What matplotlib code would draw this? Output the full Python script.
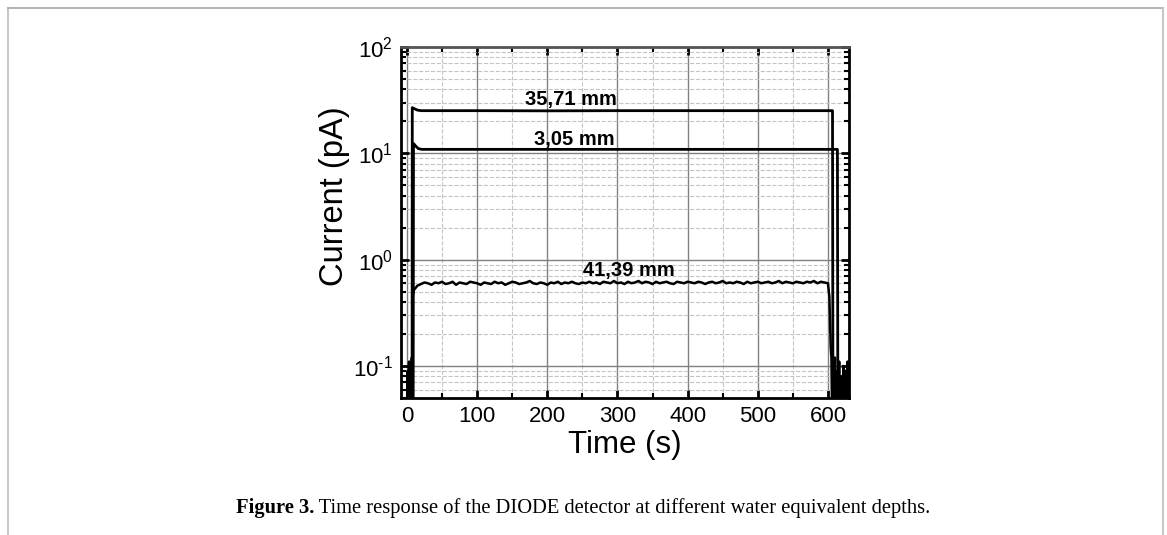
import numpy as np
import matplotlib
matplotlib.use('Agg')
import matplotlib.pyplot as plt
from matplotlib.lines import Line2D
from matplotlib.ticker import MultipleLocator, LogLocator, FuncFormatter, NullFormatter

plt.rcParams['font.family'] = ['Liberation Sans', 'DejaVu Sans']
plt.rcParams['mathtext.fontset'] = 'custom'
plt.rcParams['mathtext.rm'] = 'Liberation Sans'
plt.rcParams['axes.unicode_minus'] = False

# 35,71 mm trace
t1 = [0, 7.3, 7.6, 10, 15, 20, 100, 200, 300, 400, 500, 606.5, 607.2]
i1 = [0.02, 0.02, 26.9, 26.4, 25.5, 25.2, 25.2, 25.1, 25.2, 25.2, 25.2, 25.2, 0.02]

# 3,05 mm trace
t2 = [0, 8.8, 9.3, 12, 16, 21, 100, 200, 300, 400, 500, 613.5, 614.2]
i2 = [0.02, 0.02, 12.4, 11.8, 11.1, 10.9, 10.9, 10.9, 10.9, 10.9, 10.9, 10.9, 0.02]

# 41,39 mm trace
t3_head = [0, 1, 2, 3, 4, 5, 6, 7, 7.8, 8.2]
i3_head = [0.02, 0.09, 0.03, 0.11, 0.02, 0.08, 0.04, 0.12, 0.03, 0.45]
t3_body = np.arange(10, 601, 5)
i3_body = [0.52, 0.57, 0.59, 0.61, 0.60, 0.58, 0.61, 0.60, 0.62, 0.59,
           0.60, 0.62, 0.58, 0.61, 0.60, 0.59, 0.62, 0.61, 0.60, 0.58,
           0.61, 0.60, 0.59, 0.62, 0.60, 0.61, 0.58, 0.60, 0.62, 0.61,
           0.59, 0.60, 0.61, 0.63, 0.60, 0.59, 0.61, 0.60, 0.58, 0.61,
           0.60, 0.62, 0.59, 0.61, 0.60, 0.62, 0.60, 0.59, 0.61, 0.60,
           0.62, 0.60, 0.61, 0.59, 0.62, 0.61, 0.60, 0.63, 0.60, 0.61,
           0.59, 0.62, 0.60, 0.61, 0.63, 0.60, 0.62, 0.61, 0.59, 0.62,
           0.60, 0.61, 0.62, 0.60, 0.59, 0.62, 0.61, 0.60, 0.62, 0.61,
           0.60, 0.62, 0.61, 0.59, 0.61, 0.62, 0.60, 0.61, 0.63, 0.60,
           0.61, 0.60, 0.62, 0.61, 0.59, 0.62, 0.60, 0.61, 0.62, 0.60,
           0.61, 0.62, 0.60, 0.61, 0.63, 0.60, 0.62, 0.61, 0.60, 0.62,
           0.61, 0.60, 0.62, 0.61, 0.63, 0.60, 0.62, 0.61, 0.60]
t3_tail = [602, 603, 604, 605, 606, 607, 608, 610, 611, 613, 614, 616, 617,
           619, 620, 622, 623, 625, 626, 628, 629, 630]
i3_tail = [0.45, 0.25, 0.15, 0.12, 0.03, 0.10, 0.04, 0.12, 0.02, 0.09, 0.03,
           0.11, 0.04, 0.08, 0.02, 0.10, 0.03, 0.09, 0.04, 0.11, 0.03, 0.08]

t3 = list(t3_head) + list(t3_body) + t3_tail
i3 = list(i3_head) + list(i3_body) + i3_tail

labels = ['35,71 mm', '3,05 mm', '41,39 mm']
label_x = [234, 238, 316]
label_y = [32, 13.5, 0.79]


def decade(v, pos):
    e = int(round(np.log10(v)))
    if e < 0:
        return r'$\mathdefault{10^{\text{-}%d}}$' % (-e)
    return r'$\mathdefault{10^{%d}}$' % e


fig = plt.figure(figsize=(11.67, 5.35), dpi=100)
ax = fig.add_axes([0.3436, 0.2561, 0.3839, 0.656])

ax.plot(t1, i1, color='black', lw=2)
ax.plot(t2, i2, color='black', lw=2)
ax.plot(t3, i3, color='black', lw=1.8)

for lab, x, y in zip(labels, label_x, label_y):
    ax.text(x, y, lab, ha='center', va='center', fontsize=14.5, fontweight='bold')

ax.set_yscale('log')
ax.set_xlim(-8.5, 630)
ax.set_ylim(0.05, 100)

ax.xaxis.set_major_locator(MultipleLocator(100))
ax.xaxis.set_minor_locator(MultipleLocator(50))
ax.yaxis.set_major_locator(LogLocator(base=10, numticks=10))
ax.yaxis.set_minor_locator(LogLocator(base=10, subs=np.arange(2, 10), numticks=20))
ax.yaxis.set_major_formatter(FuncFormatter(decade))
ax.yaxis.set_minor_formatter(NullFormatter())

ax.grid(True, which='major', color='#808080', lw=1, ls='-')
ax.grid(True, which='minor', color='#c4c4c4', lw=0.8, ls='--')
ax.set_axisbelow(True)

ax.tick_params(which='both', direction='in', top=True, right=True, width=2)
ax.tick_params(which='major', length=6, labelsize=16)
ax.tick_params(axis='x', which='major', pad=6)
ax.tick_params(axis='y', which='major', pad=6)
ax.tick_params(which='minor', length=3.5, width=1.5)

for s in ['left', 'bottom', 'right']:
    ax.spines[s].set_linewidth(2)
ax.spines['top'].set_linewidth(2)
ax.spines['top'].set_color('#555555')

ax.set_xlabel('Time (s)', fontsize=22.5, labelpad=2)
ax.set_ylabel('Current (pA)', fontsize=23.5, va='center')
ax.yaxis.set_label_coords(-0.148, 0.575)

# caption
cap = fig.text(236 / 1167, 1 - 513 / 535, 'Figure 3.', fontsize=14.8, fontweight='bold',
               family='Liberation Serif', va='baseline', ha='left')
ax.annotate(' Time response of the DIODE detector at different water equivalent depths.',
            xy=(1, 0), xycoords=cap, va='bottom', ha='left', fontsize=14.8,
            family='Liberation Serif', annotation_clip=False)

# page frame
W, H = 1167, 535
fig.add_artist(Line2D([7.5 / W, 7.5 / W], [0, 1 - 8 / H], color='#c8c8c8', lw=1.5,
                      transform=fig.transFigure))
fig.add_artist(Line2D([7.5 / W, 1163 / W], [1 - 8 / H, 1 - 8 / H], color='#a8a8a8', lw=1.2,
                      transform=fig.transFigure))
fig.add_artist(Line2D([1163 / W, 1163 / W], [0, 1 - 8 / H], color='#c8c8c8', lw=1.5,
                      transform=fig.transFigure))

fig.savefig('out.png', dpi=100)
